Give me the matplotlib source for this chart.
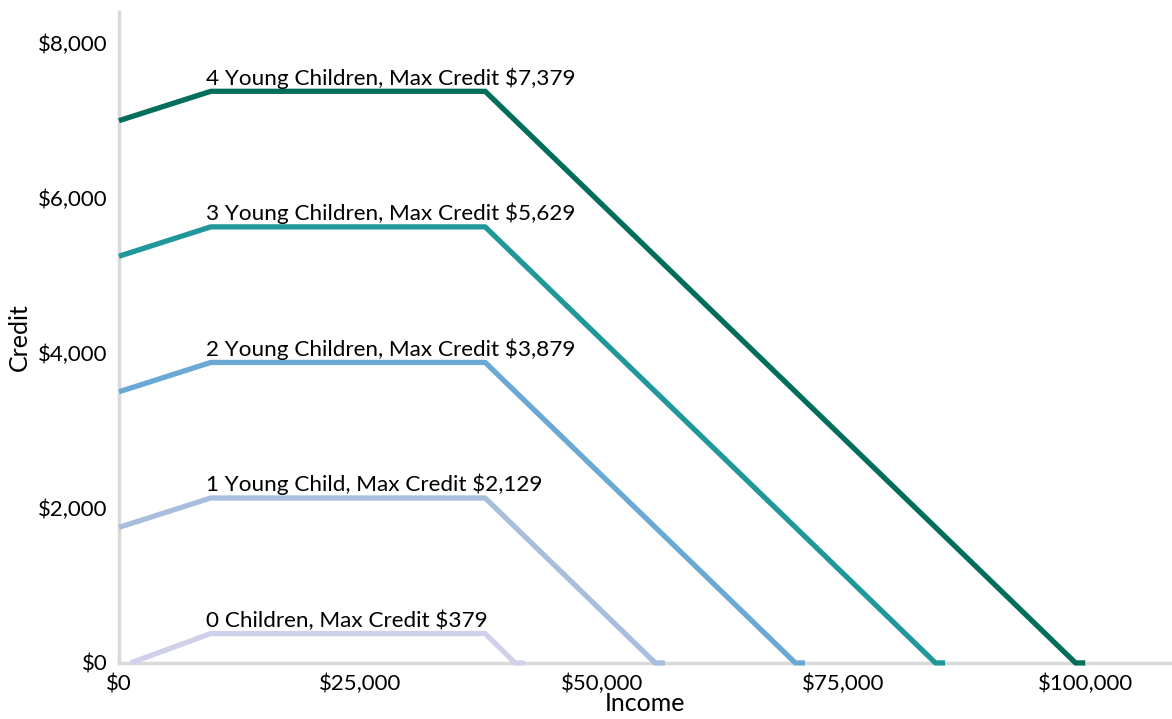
import matplotlib.pyplot as plt
import matplotlib.ticker as ticker

plt.rcParams['font.family'] = ['Lato', 'DejaVu Sans']

# --- Data

labels = [
    "0 Children, Max Credit $379",
    "1 Young Child, Max Credit $2,129",
    "2 Young Children, Max Credit $3,879",
    "3 Young Children, Max Credit $5,629",
    "4 Young Children, Max Credit $7,379",
]
max_credit = [379, 2129, 3879, 5629, 7379]

income_0 = [1200, 9500, 37900, 41000, 42000]
credit_0 = [0, 379, 379, 0, 0]
income_1 = [0, 9500, 37900, 55500, 56500]
credit_1 = [1750, 2129, 2129, 0, 0]
income_2 = [0, 9500, 37900, 70000, 71000]
credit_2 = [3500, 3879, 3879, 0, 0]
income_3 = [0, 9500, 37900, 84500, 85500]
credit_3 = [5250, 5629, 5629, 0, 0]
income_4 = [0, 9500, 37900, 99000, 100000]
credit_4 = [7000, 7379, 7379, 0, 0]

incomes = [income_0, income_1, income_2, income_3, income_4]
credits = [credit_0, credit_1, credit_2, credit_3, credit_4]
colors = ["#CFD1EA", "#A9BEDC", "#69A9D3", "#20979A", "#006E5A"]

# --- Plot

fig = plt.figure(figsize=(11.72, 7.19), dpi=100)
ax = fig.add_axes([0.1015, 0.078, 0.897, 0.905])

for x, y, c, lab, m in zip(incomes, credits, colors, labels, max_credit):
    ax.plot(x, y, color=c, lw=3.8, solid_joinstyle="round", solid_capstyle="butt",
            zorder=3, clip_on=False)
    ax.annotate(
        lab, xy=(9000, m), xytext=(0, 2), textcoords="offset points",
        ha="left", va="bottom", fontsize=16.2, color="black"
    )

ax.set_xlim(0, 108800)
ax.set_ylim(0, 8400)
ax.xaxis.set_major_locator(ticker.MultipleLocator(25000))
ax.yaxis.set_major_locator(ticker.MultipleLocator(2000))
fmt = ticker.FuncFormatter(lambda v, p: f"${v:,.0f}")
ax.xaxis.set_major_formatter(fmt)
ax.yaxis.set_major_formatter(fmt)
ax.tick_params(length=0, labelsize=16)
ax.tick_params(axis="x", pad=8)
ax.tick_params(axis="y", pad=8)

for s in ["top", "right"]:
    ax.spines[s].set_visible(False)
for s in ["left", "bottom"]:
    ax.spines[s].set_color("#D9D9D9")
    ax.spines[s].set_linewidth(2.5)

ax.set_xlabel("Income", fontsize=18, labelpad=-2)
ax.set_ylabel("Credit", fontsize=18, labelpad=5)

plt.savefig("out.png", dpi=100, facecolor="white")
